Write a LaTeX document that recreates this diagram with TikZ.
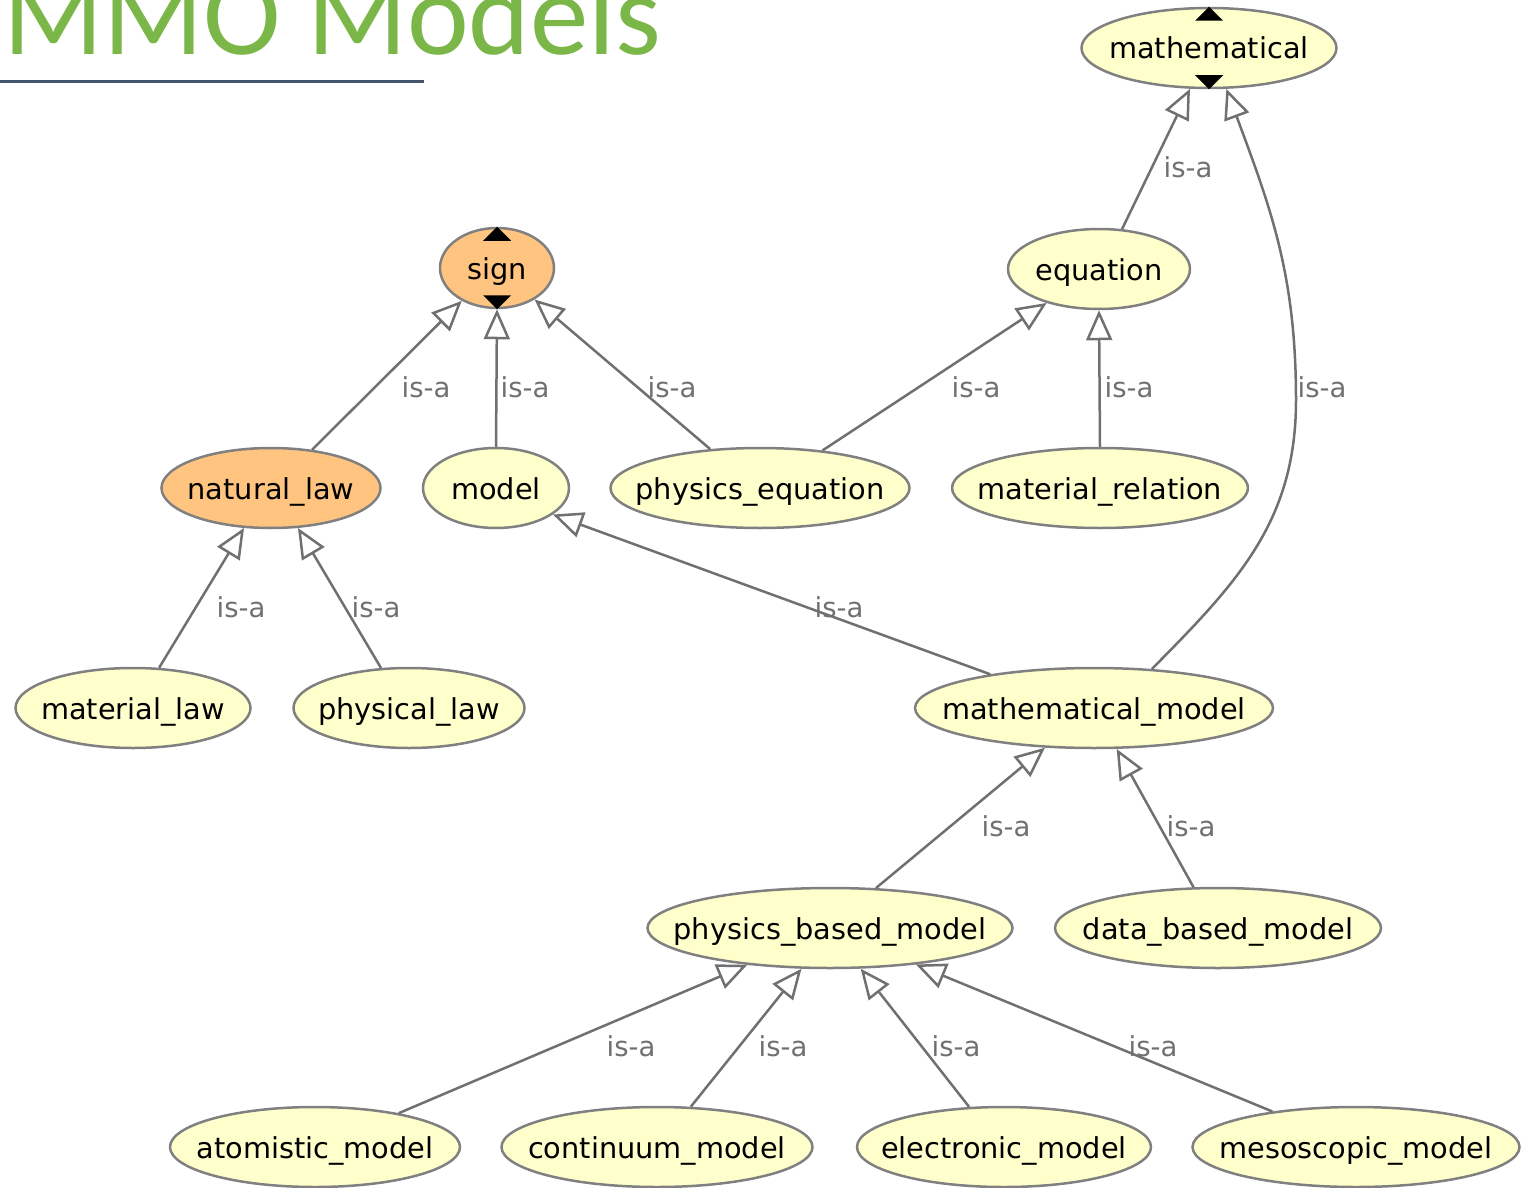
\documentclass[tikz,border=0pt]{standalone}
\usepackage{fontspec}
\setmainfont{DejaVu Sans}
\newfontfamily\titlefont{Carlito}
\usepackage{tikz}
\usetikzlibrary{shapes.geometric}
\usetikzlibrary{arrows.meta}

\definecolor{clsfill}{HTML}{FFFFCC}
\definecolor{clsorange}{HTML}{FFC580}
\definecolor{clsborder}{HTML}{808080}
\definecolor{edgegray}{HTML}{707070}
\definecolor{titlegreen}{HTML}{7AB648}
\definecolor{rulecolor}{HTML}{44546A}

% class names get no width of their own, the ellipse size is set by the style
\newcommand{\cname}[1]{\makebox[0pt]{#1}}

\begin{document}
\begin{tikzpicture}[x=1pt, y=-1pt,
    cls/.style={ellipse, draw=clsborder, line width=2.5pt, fill=clsfill,
        minimum height=80pt, inner sep=0pt, text height=26pt, text depth=4pt,
        font=\fontsize{28.8}{34}\selectfont},
    root/.style={cls, fill=clsorange},
    isa/.style={text=edgegray, inner sep=0pt, font=\fontsize{27.5}{32}\selectfont},
    isarrow/.style={draw=edgegray, line width=2.5pt,
        -{Triangle[open, length=30pt, width=26pt]}}]

    \useasboundingbox (0,0) rectangle (1529,1188);
    \clip (0,0) rectangle (1529,1188);

    % Title
    \node at (3,55) (title) [anchor=base west, inner sep=0pt, text=titlegreen,
        font=\titlefont\fontsize{117}{120}\selectfont] {MMO Models};
    \draw[rulecolor, line width=3pt] (0,82) -- (424,82);

    % Nodes
    \node at (1209,48) (mathematical) [cls, minimum width=255pt] {\cname{mathematical}};
    \node at (497,268) (sign) [root, minimum width=114pt] {\cname{sign}};
    \node at (1099,269) (equation) [cls, minimum width=182pt] {\cname{equation}};
    \node at (271,488) (natural_law) [root, minimum width=219pt] {\cname{natural\_law}};
    \node at (496,488) (model) [cls, minimum width=146pt] {\cname{model}};
    \node at (760,488) (physics_equation) [cls, minimum width=299pt] {\cname{physics\_equation}};
    \node at (1100,488) (material_relation) [cls, minimum width=296pt] {\cname{material\_relation}};
    \node at (133,708) (material_law) [cls, minimum width=235pt] {\cname{material\_law}};
    \node at (409,708) (physical_law) [cls, minimum width=231pt] {\cname{physical\_law}};
    \node at (1094,708) (mathematical_model) [cls, minimum width=358pt] {\cname{mathematical\_model}};
    \node at (830,928) (physics_based_model) [cls, minimum width=365pt] {\cname{physics\_based\_model}};
    \node at (1218,928) (data_based_model) [cls, minimum width=326pt] {\cname{data\_based\_model}};
    \node at (315,1147) (atomistic_model) [cls, minimum width=290pt] {\cname{atomistic\_model}};
    \node at (657,1147) (continuum_model) [cls, minimum width=311pt] {\cname{continuum\_model}};
    \node at (1004,1147) (electronic_model) [cls, minimum width=294pt] {\cname{electronic\_model}};
    \node at (1356,1147) (mesoscopic_model) [cls, minimum width=327pt] {\cname{mesoscopic\_model}};

    % expand / collapse marks
    \fill (mathematical.north) -- ++(14,14) -- ++(-28,0) -- cycle;
    \fill (mathematical.south) -- ++(14,-14) -- ++(-28,0) -- cycle;
    \fill (sign.north) -- ++(14,14) -- ++(-28,0) -- cycle;
    \fill (sign.south) -- ++(14,-14) -- ++(-28,0) -- cycle;

    % Arrows
    \draw[isarrow] (natural_law.43) -- (sign.-137);
    \draw[isarrow] (model.north) -- (sign.south);
    \draw[isarrow] (physics_equation.142) -- (sign.-40);
    \draw[isarrow] (physics_equation.31) -- (equation.-147);
    \draw[isarrow] (material_relation.north) -- (equation.south);
    \draw[isarrow] (equation.60) -- (mathematical.-115);
    \coordinate (bend) at (1296,400);
    \draw[isarrow] (mathematical_model.34) .. controls (1238,582) and (1296,521) .. (bend)
        .. controls (1296,275) and (1271,209) .. (mathematical.-67);
    \draw[isarrow] (material_law.57) -- (natural_law.-124);
    \draw[isarrow] (physical_law.125) -- (natural_law.-56);
    \draw[isarrow] (mathematical_model.162) -- (model.-25);
    \draw[isarrow] (physics_based_model.41) -- (mathematical_model.-141);
    \draw[isarrow] (data_based_model.121) -- (mathematical_model.-61);
    \draw[isarrow] (atomistic_model.22) -- (physics_based_model.-156);
    \draw[isarrow] (continuum_model.50) -- (physics_based_model.-125);
    \draw[isarrow] (electronic_model.131) -- (physics_based_model.-53);
    \draw[isarrow] (mesoscopic_model.157) -- (physics_based_model.-23);

    % Labels
    \node at (426,387) (isa_law_sign) [isa] {is-a};
    \node at (525,387) (isa_model_sign) [isa] {is-a};
    \node at (672,387) (isa_peq_sign) [isa] {is-a};
    \node at (976,387) (isa_peq_eq) [isa] {is-a};
    \node at (1129,387) (isa_rel_eq) [isa] {is-a};
    \node at (1188,167) (isa_eq_math) [isa] {is-a};
    \node at (1322,387) (isa_mm_math) [isa] {is-a};
    \node at (241,607) (isa_mlaw_law) [isa] {is-a};
    \node at (376,607) (isa_plaw_law) [isa] {is-a};
    \node at (839,607) (isa_mm_model) [isa] {is-a};
    \node at (1006,826) (isa_pbm_mm) [isa] {is-a};
    \node at (1191,826) (isa_dbm_mm) [isa] {is-a};
    \node at (631,1046) (isa_atom_pbm) [isa] {is-a};
    \node at (783,1046) (isa_cont_pbm) [isa] {is-a};
    \node at (956,1046) (isa_elec_pbm) [isa] {is-a};
    \node at (1153,1046) (isa_meso_pbm) [isa] {is-a};

\end{tikzpicture}
\end{document}
